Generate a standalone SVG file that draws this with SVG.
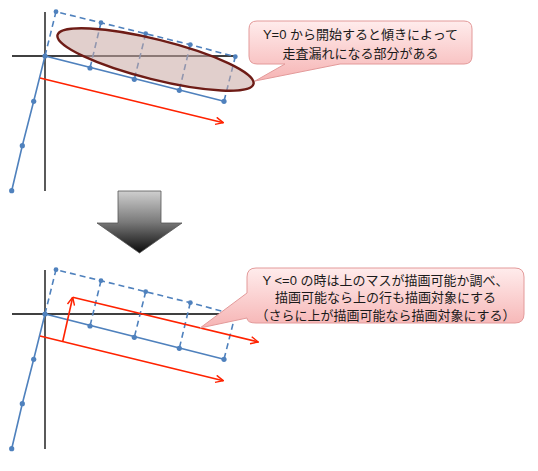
<svg xmlns="http://www.w3.org/2000/svg" width="538" height="471" viewBox="0 0 538 471">
<style>
.axis{stroke:#000;stroke-width:1.3;fill:none}
.blue{stroke:#4f81bd;stroke-width:1.6;fill:none}
.dash{stroke:#4f81bd;stroke-width:1.6;fill:none;stroke-dasharray:6 4}
.dot{fill:#4f81bd}
.red{stroke:#ff2200;stroke-width:1.6;fill:none}
.callout{fill:url(#cg);stroke:#e39a9a;stroke-width:1}
.txt{font-family:"Liberation Sans","Noto Sans CJK JP",sans-serif;font-size:13px;fill:#1a1a1a;text-anchor:middle}
</style>
<defs>
<linearGradient id="cg" x1="0" y1="0" x2="0" y2="1">
<stop offset="0" stop-color="#ffecec"/>
<stop offset="1" stop-color="#f6b4b4"/>
</linearGradient>
<linearGradient id="dg" x1="0" y1="0" x2="0" y2="1">
<stop offset="0" stop-color="#cfcfcf"/>
<stop offset="0.5" stop-color="#7a7a7a"/>
<stop offset="1" stop-color="#0a0a0a"/>
</linearGradient>
<marker id="ah" viewBox="0 0 10 10" refX="9.5" refY="5" markerWidth="9" markerHeight="9" orient="auto" markerUnits="userSpaceOnUse">
<path d="M1,1 L9.5,5 L1,9" fill="none" stroke="#ff2200" stroke-width="1.6"/>
</marker>
<g id="graph">
<line class="axis" x1="45" y1="12" x2="45" y2="191"/>
<line class="axis" x1="12" y1="56" x2="235" y2="56"/>
<polyline class="dash" points="45,56 56,11.7 101,22.7 145.7,33.7 190.3,44.7 235.3,56.7 224,101.3"/>
<line class="dash" x1="101" y1="22.7" x2="90" y2="68"/>
<line class="dash" x1="145.7" y1="33.7" x2="134.3" y2="79.3"/>
<line class="dash" x1="190.3" y1="44.7" x2="179.3" y2="90.3"/>
<polyline class="blue" points="11.7,190.7 22.3,145.7 33.7,101.3 45,56 224,101.3"/>
<circle class="dot" cx="11.7" cy="190.7" r="2.6"/>
<circle class="dot" cx="22.3" cy="145.7" r="2.6"/>
<circle class="dot" cx="33.7" cy="101.3" r="2.6"/>
<circle class="dot" cx="45" cy="56" r="2.6"/>
<circle class="dot" cx="90" cy="68" r="2.6"/>
<circle class="dot" cx="134.3" cy="79.3" r="2.6"/>
<circle class="dot" cx="179.3" cy="90.3" r="2.6"/>
<circle class="dot" cx="224" cy="101.3" r="2.6"/>
<circle class="dot" cx="56" cy="11.7" r="2.4"/>
<circle class="dot" cx="101" cy="22.7" r="2.4"/>
<circle class="dot" cx="145.7" cy="33.7" r="2.4"/>
<circle class="dot" cx="190.3" cy="44.7" r="2.4"/>
<circle class="dot" cx="235.3" cy="56.7" r="2.4"/>
</g>
</defs>

<g id="top-graph">
<use href="#graph"/>
</g>
<g id="connectors-top">
<line class="red" x1="40" y1="78" x2="223.3" y2="122.7" marker-end="url(#ah)"/>
</g>
<g id="ellipse">
<ellipse cx="155.5" cy="59.5" rx="101" ry="20" transform="rotate(14 155.5 59.5)" fill="#c8a8a2" fill-opacity="0.55" stroke="#6e1c16" stroke-width="2.4"/>
</g>
<g id="callout-top">
<path class="callout" d="M257,21 H464 Q472,21 472,29 V56 Q472,64 464,64 H340 L255,81 L285,64 H257 Q249,64 249,56 V29 Q249,21 257,21 Z"/>
<text class="txt" x="360.5" y="38.5">Y=0 から開始すると傾きによって</text>
<text class="txt" x="360.5" y="57.5">走査漏れになる部分がある</text>
</g>

<g id="down-arrow">
<polygon points="118,191 161,191 161,223 182,223 139.5,253 97,223 118,223" fill="url(#dg)" stroke="#555" stroke-width="0.8"/>
</g>

<g id="bottom-graph" transform="translate(0,258)">
<use href="#graph"/>
</g>
<g id="connectors-bottom">
<line class="red" x1="40" y1="336" x2="223.3" y2="380.7" marker-end="url(#ah)"/>
<line class="red" x1="62.7" y1="341.5" x2="72.7" y2="297.3" marker-end="url(#ah)"/>
<line class="red" x1="72.7" y1="297.3" x2="258.3" y2="342" marker-end="url(#ah)"/>
</g>
<g id="callout-bottom">
<path class="callout" d="M256,268 H515 Q524,268 524,277 V314 Q524,323 515,323 H256 Q247,323 247,318 L200,328 L247,293 V277 Q247,268 256,268 Z"/>
<text class="txt" x="385.5" y="285">Y &lt;=0 の時は上のマスが描画可能か調べ、</text>
<text class="txt" x="385.5" y="302">描画可能なら上の行も描画対象にする</text>
<text class="txt" x="385.5" y="319.5">（さらに上が描画可能なら描画対象にする）</text>
</g>
</svg>
